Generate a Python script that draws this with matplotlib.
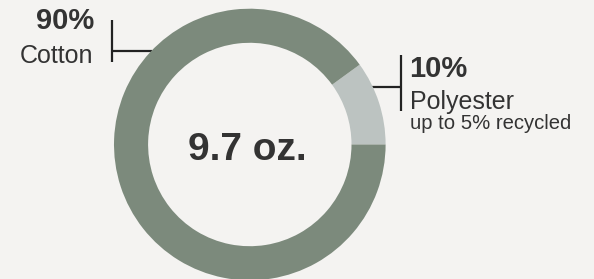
import matplotlib
matplotlib.use("Agg")
import matplotlib.pyplot as plt

# Data
labels = ["Polyester", "Cotton"]
shares = [10, 90]
pct_labels = ["10%", "90%"]
center_label = "9.7 oz."
sub_note = "up to 5% recycled"

W, H = 594, 279
fig = plt.figure(figsize=(W / 100, H / 100), dpi=100)
bg = "#f4f3f1"
fig.patch.set_facecolor(bg)
ax = fig.add_axes([0, 0, 1, 1])
ax.set_facecolor(bg)

def Y(y):
    return H - y

dark = "#7c8a7c"
light = "#bcc3c1"
txt = "#333333"
line_c = "#222222"
font = "Liberation Sans"

cx, cy, R, w = 249.8, Y(144.5), 135.8, 34.1
ax.pie(shares, colors=[light, dark], startangle=0, counterclock=True,
       center=(cx, cy), radius=R, wedgeprops=dict(width=w, linewidth=0),
       frame=True)
ax.set_xlim(0, W)
ax.set_ylim(0, H)
ax.set_aspect("equal")
ax.axis("off")

# leader lines (Cotton)
ax.plot([112.3, 112.3], [Y(20), Y(62)], color=line_c, lw=1.6, solid_capstyle="butt", zorder=0)
ax.plot([112.3, 152], [Y(51), Y(51)], color=line_c, lw=1.6, solid_capstyle="butt", zorder=0)
# leader lines (Polyester)
ax.plot([401, 401], [Y(55), Y(111)], color=line_c, lw=1.6, solid_capstyle="butt", zorder=0)
ax.plot([372, 401], [Y(86.7), Y(86.7)], color=line_c, lw=1.6, solid_capstyle="butt", zorder=0)

ax.text(94, Y(29.3), pct_labels[1], ha="right", va="baseline", fontsize=21,
        fontweight="bold", color=txt, family=font)
ax.text(93.5, Y(63.3), labels[1], ha="right", va="baseline", fontsize=18,
        color=txt, family=font)
ax.text(409, Y(77.3), pct_labels[0], ha="left", va="baseline", fontsize=21,
        fontweight="bold", color=txt, family=font)
ax.text(409.5, Y(109.5), labels[0], ha="left", va="baseline", fontsize=18,
        color=txt, family=font)
ax.text(409.5, Y(129.3), sub_note, ha="left", va="baseline", fontsize=14.6,
        color=txt, family=font)
ax.text(247.8, Y(160), center_label, ha="center", va="baseline", fontsize=28,
        fontweight="bold", color=txt, family=font)

fig.savefig("out.png", dpi=100, facecolor=bg)
